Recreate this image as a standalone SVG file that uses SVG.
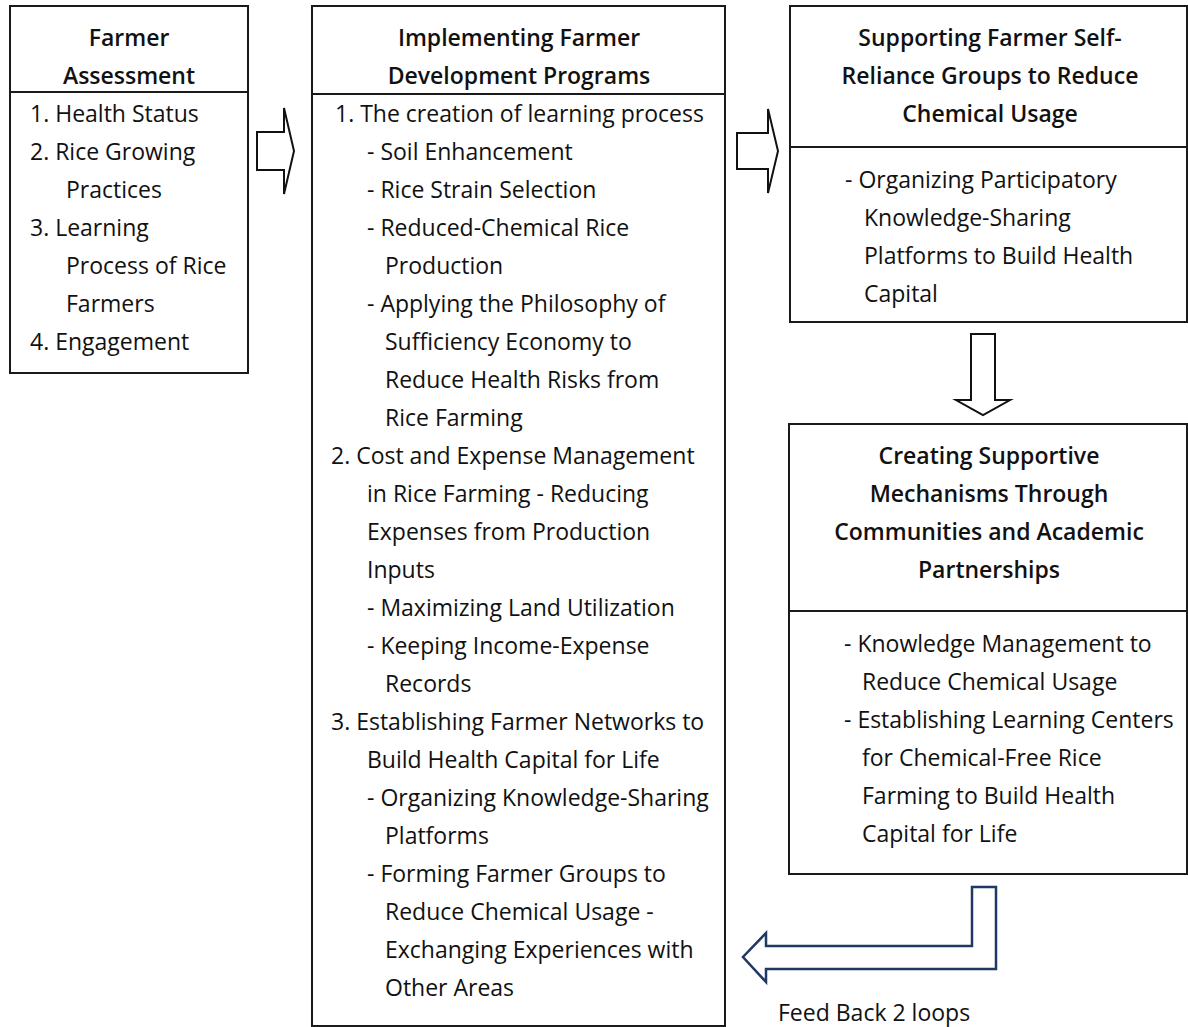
<svg xmlns="http://www.w3.org/2000/svg" width="1188" height="1027" viewBox="0 0 1188 1027">
<style>
.box{fill:#fff;stroke:#1a1a1a;stroke-width:2}
.div{stroke:#1a1a1a;stroke-width:2}
.t{font-family:"Open Sans","Noto Sans",sans-serif;font-size:23px;fill:#111}
.h{font-family:"Open Sans","Noto Sans",sans-serif;font-size:23px;font-weight:600;fill:#111;text-anchor:middle}
.arr{fill:#fff;stroke:#111;stroke-width:2;stroke-linejoin:miter}
.fb{fill:#fff;stroke:#1f3864;stroke-width:2.5;stroke-linejoin:miter}
</style>
<rect width="1188" height="1027" fill="#fff"/>
<g id="connectors">
<polygon class="arr" points="257,132 284,132 284,108 294,151 284,194 284,170 257,170"/>
<polygon class="arr" points="737,133 768,133 768,109 778,151 768,193 768,169 737,169"/>
<polygon class="arr" points="971,334 995,334 995,400 1010,400 983,415 956,400 971,400"/>
<polygon class="fb" points="996,887 996,969 766,969 766,982 743,957 766,933 766,946 972,946 972,887"/>
</g>
<g id="farmer-assessment">
<rect class="box" x="10" y="6" width="238" height="367"/>
<line class="div" x1="10" y1="92" x2="248" y2="92"/>
<text class="h" x="129" y="46">Farmer</text>
<text class="h" x="129" y="84">Assessment</text>
<text class="t" x="30" y="122">1. Health Status</text>
<text class="t" x="30" y="160">2. Rice Growing</text>
<text class="t" x="66" y="198">Practices</text>
<text class="t" x="30" y="236">3. Learning</text>
<text class="t" x="66" y="274">Process of Rice</text>
<text class="t" x="66" y="312">Farmers</text>
<text class="t" x="30" y="350">4. Engagement</text>
</g>
<g id="implementing-programs">
<rect class="box" x="312" y="6" width="413" height="1020"/>
<line class="div" x1="312" y1="94" x2="725" y2="94"/>
<text class="h" x="519" y="46">Implementing Farmer</text>
<text class="h" x="519" y="84">Development Programs</text>
<text class="t" x="335" y="122">1. The creation of learning process</text>
<text class="t" x="367" y="160">- Soil Enhancement</text>
<text class="t" x="367" y="198">- Rice Strain Selection</text>
<text class="t" x="367" y="236">- Reduced-Chemical Rice</text>
<text class="t" x="385" y="274">Production</text>
<text class="t" x="367" y="312">- Applying the Philosophy of</text>
<text class="t" x="385" y="350">Sufficiency Economy to</text>
<text class="t" x="385" y="388">Reduce Health Risks from</text>
<text class="t" x="385" y="426">Rice Farming</text>
<text class="t" x="331" y="464">2. Cost and Expense Management</text>
<text class="t" x="367" y="502">in Rice Farming - Reducing</text>
<text class="t" x="367" y="540">Expenses from Production</text>
<text class="t" x="367" y="578">Inputs</text>
<text class="t" x="367" y="616">- Maximizing Land Utilization</text>
<text class="t" x="367" y="654">- Keeping Income-Expense</text>
<text class="t" x="385" y="692">Records</text>
<text class="t" x="331" y="730">3. Establishing Farmer Networks to</text>
<text class="t" x="367" y="768">Build Health Capital for Life</text>
<text class="t" x="367" y="806">- Organizing Knowledge-Sharing</text>
<text class="t" x="385" y="844">Platforms</text>
<text class="t" x="367" y="882">- Forming Farmer Groups to</text>
<text class="t" x="385" y="920">Reduce Chemical Usage -</text>
<text class="t" x="385" y="958">Exchanging Experiences with</text>
<text class="t" x="385" y="996">Other Areas</text>
</g>
<g id="self-reliance-groups">
<rect class="box" x="790" y="6" width="397" height="316"/>
<line class="div" x1="790" y1="147" x2="1187" y2="147"/>
<text class="h" x="990" y="46">Supporting Farmer Self-</text>
<text class="h" x="990" y="84">Reliance Groups to Reduce</text>
<text class="h" x="990" y="122">Chemical Usage</text>
<text class="t" x="845" y="188">- Organizing Participatory</text>
<text class="t" x="864" y="226">Knowledge-Sharing</text>
<text class="t" x="864" y="264">Platforms to Build Health</text>
<text class="t" x="864" y="302">Capital</text>
</g>
<g id="supportive-mechanisms">
<rect class="box" x="789" y="424" width="398" height="450"/>
<line class="div" x1="789" y1="611" x2="1187" y2="611"/>
<text class="h" x="989" y="464">Creating Supportive</text>
<text class="h" x="989" y="502">Mechanisms Through</text>
<text class="h" x="989" y="540">Communities and Academic</text>
<text class="h" x="989" y="578">Partnerships</text>
<text class="t" x="844" y="652">- Knowledge Management to</text>
<text class="t" x="862" y="690">Reduce Chemical Usage</text>
<text class="t" x="844" y="728">- Establishing Learning Centers</text>
<text class="t" x="862" y="766">for Chemical-Free Rice</text>
<text class="t" x="862" y="804">Farming to Build Health</text>
<text class="t" x="862" y="842">Capital for Life</text>
</g>
<g id="feedback-label">
<text class="t" x="778" y="1021">Feed Back 2 loops</text>
</g>
</svg>
